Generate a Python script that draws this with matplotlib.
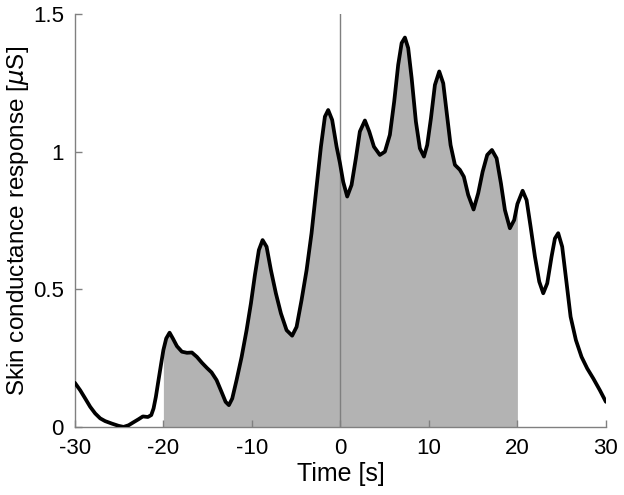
import matplotlib
matplotlib.use("Agg")
import matplotlib.pyplot as plt
import numpy as np

plt.rcParams['font.family'] = ['Liberation Sans', 'DejaVu Sans']
plt.rcParams['axes.unicode_minus'] = False

# time [s] and skin conductance response [uS]
time_s = [
    -30.0, -29.40, -28.83, -28.27, -27.71, -27.14, -26.58, -25.82, -25.07, -24.5,
    -23.93, -23.37, -22.8, -22.32, -21.75, -21.37, -21.11, -20.85, -20.55, -20.25,
    -20.0, -19.68, -19.3, -18.93, -18.47, -17.91, -17.34, -16.78, -16.21, -15.65,
    -15.08, -14.56, -13.99, -13.43, -12.97, -12.6, -12.22, -11.73, -11.16, -10.6,
    -10.11, -9.66, -9.21, -8.79, -8.34, -7.85, -7.29, -6.72, -6.08, -5.45,
    -4.95, -4.39, -3.82, -3.26, -2.69, -2.2, -1.75, -1.38, -0.93, -0.43,
    -0.06, 0.32, 0.77, 1.26, 1.75, 2.2, 2.77, 3.26, 3.79, 4.46,
    5.03, 5.59, 6.08, 6.53, 6.92, 7.29, 7.66, 8.05, 8.53, 8.98,
    9.44, 9.81, 10.23, 10.68, 11.17, 11.62, 12.0, 12.45, 12.94, 13.5,
    13.95, 14.44, 15.05, 15.57, 16.07, 16.59, 17.12, 17.65, 18.14, 18.59,
    19.15, 19.64, 20.0, 20.59, 21.04, 21.49, 21.98, 22.47, 22.92, 23.37,
    23.86, 24.24, 24.61, 25.06, 25.56, 26.01, 26.61, 27.25, 27.89, 28.57,
    29.32, 30.0,
]
scr = [
    0.161, 0.134, 0.104, 0.074, 0.050, 0.032, 0.022, 0.013, 0.005, 0.001,
    0.007, 0.018, 0.029, 0.039, 0.037, 0.044, 0.068, 0.110, 0.171, 0.231,
    0.280, 0.322, 0.343, 0.322, 0.294, 0.274, 0.270, 0.271, 0.255, 0.234,
    0.215, 0.199, 0.171, 0.128, 0.092, 0.080, 0.104, 0.171, 0.255, 0.352,
    0.449, 0.552, 0.643, 0.679, 0.655, 0.570, 0.486, 0.413, 0.352, 0.332,
    0.364, 0.461, 0.570, 0.704, 0.873, 1.018, 1.127, 1.151, 1.115, 1.018,
    0.960, 0.890, 0.837, 0.879, 0.976, 1.073, 1.113, 1.073, 1.018, 0.988,
    1.000, 1.061, 1.182, 1.315, 1.394, 1.414, 1.376, 1.267, 1.109, 1.012,
    0.982, 1.024, 1.121, 1.242, 1.291, 1.248, 1.145, 1.024, 0.952, 0.934,
    0.909, 0.843, 0.790, 0.849, 0.927, 0.988, 1.006, 0.976, 0.885, 0.788,
    0.722, 0.752, 0.810, 0.858, 0.824, 0.728, 0.619, 0.528, 0.486, 0.522,
    0.619, 0.685, 0.704, 0.655, 0.522, 0.401, 0.316, 0.255, 0.213, 0.177,
    0.134, 0.092,
]
window = (-20, 20)

t = np.array(time_s)
y = np.array(scr)

fig = plt.figure(figsize=(6.24, 4.95), dpi=100)
ax = fig.add_axes([0.120, 0.137, 0.851, 0.835])

mask = (t >= window[0]) & (t <= window[1])
ax.fill_between(t[mask], 0, y[mask], color='#b3b3b3', linewidth=0, zorder=1)
ax.plot([0, 0], [0, 1.5], color='#7f7f7f', linewidth=1.0, zorder=2)
ax.plot(t, y, color='black', linewidth=2.7, solid_joinstyle='round',
        solid_capstyle='round', zorder=3)

ax.set_xlim(-30, 30)
ax.set_ylim(0, 1.5)
ax.set_xticks([-30, -20, -10, 0, 10, 20, 30])
ax.set_yticks([0, 0.5, 1, 1.5])
ax.set_yticklabels(['0', '0.5', '1', '1.5'])

ax.spines[['top', 'right']].set_visible(False)
for s in ['left', 'bottom']:
    ax.spines[s].set_color('#808080')
    ax.spines[s].set_linewidth(1.0)
ax.tick_params(direction='in', length=5, width=1, color='#808080',
               labelsize=16, labelcolor='black', pad=8)

ax.set_xlabel('Time [s]', fontsize=18, labelpad=2)
ax.set_ylabel(r'Skin conductance response [$\mu$S]', fontsize=17.5)
# place the y label so its left edge sits a few pixels from the figure edge
ax.yaxis.set_label_coords(-0.083, 0.5)

fig.savefig('out.png', dpi=100)
